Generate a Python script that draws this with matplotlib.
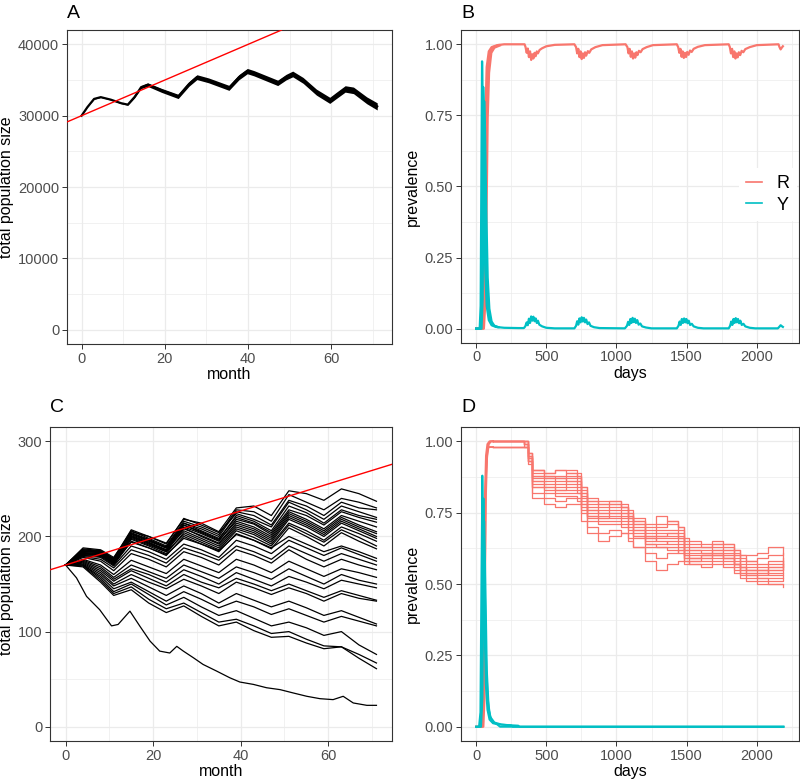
import numpy as np
import matplotlib
matplotlib.use("Agg")
import matplotlib.pyplot as plt
from matplotlib.ticker import MultipleLocator, FormatStrFormatter
from matplotlib.lines import Line2D

plt.rcParams['font.family'] = ['Liberation Sans', 'DejaVu Sans']

RED = '#F8766D'
TEAL = '#00BFC4'
GRID = '#EBEBEB'

# ---------------- panel A: one large population (months) ----------------
A_MONTH = [0, 1.4, 3.0, 4.6, 7.0, 9.5, 11.1, 12.7, 14.3, 15.9, 19.2, 23.2, 25.8, 27.7, 30.5,
           35.4, 37.8, 39.8, 41.4, 47.1, 49.1, 50.7, 53.2, 56.4, 59.6, 61.2, 63.3, 65.3, 68.5, 71]
A_POP = [30000, 31200, 32350, 32600, 32250, 31750, 31550, 32600, 34000, 34350, 33550, 32700,
         34450, 35400, 34950, 33900, 35400, 36250, 35950, 34600, 35400, 35850, 34950, 33300,
         32150, 32850, 33750, 33550, 32150, 31300]
A_SPREAD = [0, 20, 40, 50, 60, 70, 80, 120, 200, 250, 280, 300, 320, 340, 340, 350, 360, 370,
            370, 380, 390, 400, 410, 420, 430, 440, 450, 460, 480, 500]
A_INTERCEPT = 30000
A_SLOPE = 250

# ---------------- panel B: prevalence, large population (days) ----------------
B_Y_DAY = [0, 25, 32, 38, 42, 47, 55, 65, 75, 90, 110, 140, 200, 300, 340,
           350, 360, 368, 376, 384, 392, 400, 408, 416, 424, 432, 440, 450, 470, 500, 560, 700,
           712, 720, 728, 736, 744, 752, 760, 768, 776, 784, 794, 804, 815, 840, 880, 1060,
           1075, 1083, 1091, 1099, 1107, 1115, 1123, 1131, 1139, 1148, 1158, 1170, 1182, 1210, 1250, 1430,
           1442, 1450, 1458, 1466, 1474, 1482, 1490, 1498, 1506, 1515, 1525, 1537, 1550, 1580, 1620, 1800,
           1810, 1818, 1826, 1834, 1842, 1850, 1858, 1866, 1874, 1883, 1893, 1905, 1918, 1950, 1990, 2150,
           2160, 2170, 2180, 2186]
B_Y_VAL = [0, 0, 0.08, 0.6, 0.94, 0.78, 0.45, 0.2, 0.08, 0.03, 0.012, 0.006, 0.003, 0.002, 0.002,
           0.008, 0.022, 0.012, 0.035, 0.02, 0.043, 0.028, 0.042, 0.026, 0.036, 0.02, 0.028, 0.014, 0.008, 0.003, 0.001, 0.001,
           0.01, 0.026, 0.014, 0.036, 0.022, 0.04, 0.025, 0.038, 0.022, 0.032, 0.016, 0.022, 0.01, 0.005, 0.002, 0.001,
           0.01, 0.024, 0.013, 0.034, 0.02, 0.038, 0.023, 0.035, 0.02, 0.03, 0.014, 0.018, 0.008, 0.004, 0.001, 0.001,
           0.01, 0.025, 0.013, 0.034, 0.02, 0.036, 0.022, 0.034, 0.019, 0.028, 0.013, 0.017, 0.008, 0.003, 0.001, 0.001,
           0.01, 0.025, 0.013, 0.034, 0.02, 0.037, 0.022, 0.034, 0.019, 0.028, 0.013, 0.017, 0.008, 0.003, 0.001, 0.001,
           0.006, 0.012, 0.008, 0.006]
B_Y2_DAY = [0, 32, 40, 46, 50, 56, 64, 74, 85, 100, 120, 150]
B_Y2_VAL = [0, 0, 0.1, 0.55, 0.85, 0.75, 0.45, 0.2, 0.08, 0.03, 0.012, 0.006]
B_Y3_DAY = [0, 38, 46, 52, 57, 63, 72, 82, 94, 110, 130, 160]
B_Y3_VAL = [0, 0, 0.1, 0.5, 0.8, 0.7, 0.42, 0.18, 0.07, 0.025, 0.01, 0.005]

B_R_DAY = [0, 40, 50, 58, 66, 75, 90, 110, 150, 200, 345,
           352, 360, 368, 376, 384, 392, 400, 408, 416, 424, 432, 440, 452, 470, 500, 560, 700,
           712, 720, 728, 736, 744, 752, 760, 768, 776, 784, 796, 806, 820, 850, 900, 1065,
           1078, 1086, 1094, 1102, 1110, 1118, 1126, 1134, 1142, 1150, 1160, 1172, 1186, 1215, 1260, 1430,
           1440, 1448, 1456, 1464, 1472, 1480, 1488, 1496, 1504, 1514, 1524, 1536, 1550, 1580, 1630, 1800,
           1808, 1816, 1824, 1832, 1840, 1848, 1856, 1864, 1872, 1882, 1892, 1904, 1918, 1950, 2000, 2155,
           2162, 2170, 2178, 2186]
B_R_VAL = [0, 0, 0.08, 0.4, 0.75, 0.92, 0.975, 0.99, 0.997, 1.0, 1.0,
           0.99, 0.97, 0.985, 0.955, 0.975, 0.945, 0.965, 0.95, 0.97, 0.958, 0.975, 0.968, 0.98, 0.986, 0.993, 0.998, 1.0,
           0.99, 0.968, 0.984, 0.955, 0.975, 0.948, 0.968, 0.952, 0.972, 0.96, 0.976, 0.97, 0.982, 0.99, 0.997, 1.0,
           0.99, 0.968, 0.984, 0.956, 0.975, 0.95, 0.968, 0.953, 0.972, 0.962, 0.977, 0.972, 0.983, 0.99, 0.997, 1.0,
           0.99, 0.97, 0.984, 0.956, 0.975, 0.952, 0.97, 0.955, 0.973, 0.963, 0.978, 0.973, 0.984, 0.991, 0.997, 1.0,
           0.99, 0.968, 0.984, 0.955, 0.975, 0.95, 0.968, 0.954, 0.972, 0.962, 0.977, 0.972, 0.983, 0.99, 0.997, 1.0,
           0.99, 0.982, 0.988, 0.993]
B_R2_DAY = [0, 48, 58, 66, 74, 84, 100, 120, 160]
B_R2_VAL = [0, 0, 0.1, 0.42, 0.76, 0.92, 0.975, 0.99, 0.997]
B_R3_DAY = [0, 55, 66, 74, 82, 92, 108, 130, 170]
B_R3_VAL = [0, 0, 0.1, 0.4, 0.74, 0.9, 0.97, 0.988, 0.996]

# ---------------- panel C: small populations (months) ----------------
C_MONTH = [0, 4, 8, 11, 15, 19, 23, 27, 31, 35, 39, 43, 47, 51, 55, 59, 63, 67, 71]
C_RUNS = [
    [170, 188, 186, 178, 205, 200, 193, 218, 214, 205, 230, 232, 222, 248, 245, 238, 250, 245, 237],
    [170, 186, 185, 176, 206, 198, 190, 216, 210, 202, 228, 226, 216, 244, 236, 228, 240, 236, 230],
    [170, 185, 184, 175, 203, 196, 188, 214, 208, 200, 226, 222, 212, 238, 232, 222, 236, 230, 228],
    [170, 187, 185, 177, 207, 200, 192, 219, 212, 204, 224, 218, 210, 236, 228, 218, 232, 226, 220],
    [170, 184, 183, 174, 201, 194, 186, 212, 205, 197, 222, 216, 206, 232, 225, 214, 228, 222, 218],
    [170, 186, 184, 176, 204, 197, 189, 214, 206, 198, 220, 214, 204, 228, 222, 212, 226, 220, 215],
    [170, 183, 182, 173, 200, 193, 185, 210, 203, 195, 218, 213, 202, 226, 218, 208, 222, 216, 210],
    [170, 185, 183, 175, 202, 195, 188, 212, 204, 196, 216, 210, 200, 224, 216, 206, 220, 212, 205],
    [170, 182, 181, 172, 199, 192, 184, 208, 201, 193, 214, 208, 198, 222, 214, 204, 218, 210, 203],
    [170, 184, 184, 176, 203, 196, 188, 209, 200, 192, 212, 206, 196, 220, 212, 202, 216, 208, 200],
    [170, 183, 182, 174, 200, 193, 186, 206, 198, 190, 210, 204, 194, 218, 210, 200, 214, 206, 198],
    [170, 181, 180, 171, 197, 190, 182, 204, 196, 188, 208, 202, 192, 214, 206, 196, 210, 203, 195],
    [170, 182, 181, 173, 198, 191, 184, 202, 194, 186, 206, 199, 190, 212, 203, 194, 207, 199, 190],
    [170, 180, 179, 170, 195, 188, 180, 200, 192, 184, 203, 196, 187, 209, 200, 190, 204, 195, 187],
    [170, 182, 180, 172, 194, 188, 181, 198, 192, 185, 202, 196, 188, 200, 192, 184, 190, 184, 177],
    [170, 180, 178, 169, 190, 184, 176, 192, 186, 178, 196, 190, 182, 196, 188, 180, 188, 181, 174],
    [170, 179, 176, 167, 186, 180, 172, 188, 182, 175, 190, 184, 176, 190, 182, 174, 182, 176, 170],
    [170, 178, 174, 164, 182, 176, 168, 184, 178, 170, 186, 180, 172, 186, 176, 168, 176, 170, 165],
    [170, 176, 170, 160, 175, 168, 161, 176, 169, 162, 176, 170, 162, 174, 166, 158, 166, 162, 157],
    [170, 175, 168, 157, 170, 163, 156, 170, 163, 156, 168, 162, 155, 166, 158, 150, 160, 154, 150],
    [170, 174, 166, 155, 166, 160, 152, 165, 158, 150, 162, 155, 148, 158, 152, 145, 154, 150, 146],
    [170, 173, 164, 153, 164, 156, 148, 160, 152, 146, 156, 150, 143, 150, 143, 136, 143, 138, 133],
    [170, 172, 162, 150, 160, 152, 145, 155, 148, 140, 152, 146, 139, 146, 140, 132, 140, 135, 132],
    [170, 171, 160, 148, 156, 147, 138, 148, 140, 130, 140, 133, 126, 132, 125, 117, 122, 115, 108],
    [170, 170, 158, 145, 152, 142, 132, 142, 134, 125, 132, 126, 118, 124, 117, 110, 116, 111, 106],
    [170, 170, 156, 142, 150, 139, 128, 136, 126, 117, 122, 114, 106, 110, 104, 96, 100, 86, 76],
    [170, 169, 154, 140, 147, 134, 124, 130, 120, 110, 113, 106, 98, 100, 92, 85, 84, 76, 67],
    [170, 168, 152, 138, 144, 130, 120, 127, 116, 106, 110, 101, 94, 95, 88, 82, 84, 72, 61],
]
C_LOW_MONTH = [0.2, 2.5, 4.8, 7.8, 10.5, 12.0, 14.7, 17.0, 19.3, 21.5, 23.8, 25.4, 26.9, 29.2,
               31.4, 34.5, 37.5, 39.8, 42.9, 45.9, 49.0, 52.0, 55.1, 58.1, 61.1, 63.4, 65.7, 68.8, 71]
C_LOW_POP = [169, 156.5, 137, 123, 106, 107.5, 121.5, 105.5, 90, 79.5, 77.5, 84.5, 79.5, 72.5,
             65.5, 58.5, 51.5, 47, 44.5, 41, 39, 35.5, 32, 29.5, 28.5, 32, 25, 22.5, 22.5]
C_INTERCEPT = 170
C_SLOPE = 1.42

# ---------------- panel D: prevalence, small populations (days) ----------------
D_Y_RUNS = [
    ([0, 20, 30, 38, 44, 50, 58, 68, 80, 95, 120, 160, 220, 300, 310, 2190],
     [0, 0, 0.05, 0.55, 0.88, 0.7, 0.4, 0.15, 0.06, 0.025, 0.012, 0.008, 0.006, 0.004, 0.0, 0.0]),
    ([0, 28, 38, 46, 52, 60, 70, 82, 100, 130, 180, 250, 260, 2190],
     [0, 0, 0.08, 0.5, 0.8, 0.55, 0.25, 0.1, 0.035, 0.015, 0.008, 0.005, 0.0, 0.0]),
    ([0, 35, 45, 52, 58, 66, 76, 90, 110, 150, 170, 2190],
     [0, 0, 0.1, 0.5, 0.72, 0.5, 0.2, 0.06, 0.02, 0.008, 0.0, 0.0]),
]
D_R_EARLY = [
    ([0, 40, 48, 55, 62, 70, 80, 95, 120], [0, 0, 0.1, 0.45, 0.8, 0.95, 0.99, 1.0, 1.0]),
    ([0, 46, 55, 62, 70, 78, 88, 100, 120], [0, 0, 0.12, 0.5, 0.82, 0.95, 0.98, 0.98, 0.98]),
    ([0, 52, 60, 66, 72, 80, 90, 105, 120], [0, 0, 0.1, 0.83, 0.9, 0.96, 0.99, 1.0, 1.0]),
]
D_DAY = [120, 340, 370, 400, 480, 560, 640, 720, 750, 790, 870, 950, 1030, 1080, 1120, 1200,
         1280, 1360, 1440, 1480, 1520, 1600, 1680, 1760, 1840, 1880, 1920, 2000, 2080, 2190]
D_R_RUNS = [
    [1.0, 1.0, 0.96, 0.90, 0.89, 0.90, 0.90, 0.89, 0.84, 0.79, 0.78, 0.79, 0.78, 0.76, 0.73, 0.70, 0.71, 0.72, 0.70, 0.65, 0.64, 0.64, 0.65, 0.64, 0.62, 0.60, 0.58, 0.59, 0.60, 0.63],
    [1.0, 1.0, 0.95, 0.89, 0.88, 0.87, 0.88, 0.87, 0.82, 0.78, 0.77, 0.78, 0.77, 0.75, 0.72, 0.69, 0.70, 0.71, 0.69, 0.64, 0.63, 0.63, 0.64, 0.63, 0.61, 0.59, 0.58, 0.57, 0.58, 0.61],
    [1.0, 0.99, 0.95, 0.88, 0.87, 0.86, 0.87, 0.86, 0.81, 0.77, 0.76, 0.77, 0.76, 0.74, 0.71, 0.68, 0.69, 0.69, 0.68, 0.63, 0.62, 0.62, 0.63, 0.62, 0.60, 0.58, 0.57, 0.56, 0.57, 0.59],
    [1.0, 0.99, 0.94, 0.87, 0.86, 0.85, 0.86, 0.85, 0.80, 0.76, 0.75, 0.76, 0.75, 0.73, 0.70, 0.67, 0.68, 0.68, 0.67, 0.62, 0.61, 0.61, 0.62, 0.61, 0.59, 0.57, 0.56, 0.55, 0.56, 0.58],
    [0.98, 0.98, 0.94, 0.86, 0.85, 0.84, 0.85, 0.84, 0.79, 0.75, 0.74, 0.75, 0.74, 0.72, 0.69, 0.66, 0.67, 0.67, 0.66, 0.61, 0.60, 0.60, 0.61, 0.60, 0.58, 0.56, 0.55, 0.54, 0.55, 0.57],
    [0.98, 0.98, 0.93, 0.86, 0.84, 0.83, 0.84, 0.83, 0.78, 0.74, 0.73, 0.74, 0.73, 0.71, 0.68, 0.65, 0.66, 0.66, 0.65, 0.60, 0.59, 0.59, 0.60, 0.59, 0.57, 0.55, 0.54, 0.53, 0.54, 0.56],
    [1.0, 1.0, 0.95, 0.90, 0.88, 0.88, 0.89, 0.88, 0.83, 0.80, 0.79, 0.79, 0.77, 0.74, 0.71, 0.67, 0.67, 0.68, 0.66, 0.62, 0.62, 0.61, 0.62, 0.62, 0.60, 0.56, 0.55, 0.55, 0.53, 0.54],
    [0.98, 0.98, 0.93, 0.85, 0.84, 0.83, 0.83, 0.82, 0.77, 0.73, 0.72, 0.72, 0.71, 0.69, 0.67, 0.64, 0.64, 0.65, 0.64, 0.59, 0.58, 0.58, 0.59, 0.58, 0.56, 0.54, 0.53, 0.52, 0.52, 0.53],
    [1.0, 1.0, 0.96, 0.88, 0.87, 0.87, 0.86, 0.86, 0.82, 0.76, 0.75, 0.75, 0.75, 0.73, 0.69, 0.66, 0.65, 0.64, 0.63, 0.60, 0.59, 0.59, 0.60, 0.59, 0.57, 0.54, 0.53, 0.52, 0.51, 0.52],
    [1.0, 0.99, 0.94, 0.84, 0.83, 0.82, 0.82, 0.82, 0.78, 0.74, 0.73, 0.73, 0.72, 0.70, 0.67, 0.64, 0.63, 0.63, 0.62, 0.58, 0.57, 0.57, 0.58, 0.57, 0.55, 0.53, 0.52, 0.51, 0.50, 0.50],
    [0.98, 0.98, 0.93, 0.84, 0.82, 0.81, 0.81, 0.80, 0.76, 0.72, 0.71, 0.71, 0.70, 0.68, 0.66, 0.63, 0.63, 0.62, 0.61, 0.58, 0.57, 0.56, 0.57, 0.56, 0.54, 0.52, 0.51, 0.50, 0.50, 0.49],
    [1.0, 0.98, 0.92, 0.80, 0.78, 0.77, 0.78, 0.78, 0.72, 0.68, 0.65, 0.67, 0.68, 0.66, 0.63, 0.58, 0.55, 0.57, 0.58, 0.57, 0.58, 0.60, 0.61, 0.60, 0.57, 0.56, 0.55, 0.55, 0.56, 0.58],
    [1.0, 0.99, 0.93, 0.82, 0.80, 0.79, 0.80, 0.79, 0.75, 0.70, 0.68, 0.69, 0.68, 0.65, 0.63, 0.61, 0.59, 0.61, 0.62, 0.59, 0.59, 0.60, 0.60, 0.59, 0.57, 0.55, 0.54, 0.54, 0.55, 0.57],
    [1.0, 1.0, 0.96, 0.90, 0.89, 0.90, 0.89, 0.88, 0.84, 0.79, 0.78, 0.78, 0.77, 0.75, 0.72, 0.71, 0.74, 0.72, 0.70, 0.66, 0.65, 0.63, 0.64, 0.64, 0.62, 0.60, 0.60, 0.61, 0.63, 0.63],
]


def style_axes(ax):
    ax.set_facecolor('white')
    ax.grid(True, which='major', color=GRID, linewidth=0.9, zorder=0)
    ax.grid(True, which='minor', color=GRID, linewidth=0.5, zorder=0)
    ax.set_axisbelow(True)
    for sp in ax.spines.values():
        sp.set_color('#333333')
        sp.set_linewidth(0.8)
    ax.tick_params(which='major', direction='out', length=3.5, width=0.7, color='#333333',
                   labelsize=10.5, labelcolor='#4D4D4D', pad=2)
    ax.tick_params(which='minor', length=0)


def panel_a(ax):
    style_axes(ax)
    lo = np.array(A_POP) - np.array(A_SPREAD)
    hi = np.array(A_POP) + np.array(A_SPREAD)
    ax.fill_between(A_MONTH, lo, hi, color='black', linewidth=0, zorder=2)
    ax.plot(A_MONTH, A_POP, color='black', linewidth=1.6, zorder=3)
    ax.axline((0, A_INTERCEPT), slope=A_SLOPE, color='red', linewidth=1.0, zorder=4)
    ax.set_xlim(-3.55, 74.55)
    ax.set_ylim(-2000, 42000)
    ax.xaxis.set_major_locator(MultipleLocator(20))
    ax.xaxis.set_minor_locator(MultipleLocator(10))
    ax.yaxis.set_major_locator(MultipleLocator(10000))
    ax.yaxis.set_minor_locator(MultipleLocator(5000))
    ax.set_xlabel('month', fontsize=11.5, labelpad=1)
    ax.set_ylabel('total population size', fontsize=11.5, labelpad=3)


def panel_prev(ax):
    style_axes(ax)
    ax.set_xlim(-109.5, 2299.5)
    ax.set_ylim(-0.05, 1.05)
    ax.xaxis.set_major_locator(MultipleLocator(500))
    ax.xaxis.set_minor_locator(MultipleLocator(250))
    ax.yaxis.set_major_locator(MultipleLocator(0.25))
    ax.yaxis.set_minor_locator(MultipleLocator(0.125))
    ax.yaxis.set_major_formatter(FormatStrFormatter('%.2f'))
    ax.set_xlabel('days', fontsize=11.5, labelpad=1)
    ax.set_ylabel('prevalence', fontsize=11.5, labelpad=3)


def panel_b(ax):
    panel_prev(ax)
    lw = 1.6
    ax.plot(B_R_DAY, B_R_VAL, color=RED, linewidth=lw, zorder=3)
    ax.plot(B_R2_DAY, B_R2_VAL, color=RED, linewidth=lw, zorder=3)
    ax.plot(B_R3_DAY, B_R3_VAL, color=RED, linewidth=lw, zorder=3)
    ax.plot(B_Y_DAY, B_Y_VAL, color=TEAL, linewidth=lw, zorder=4)
    ax.plot(B_Y2_DAY, B_Y2_VAL, color=TEAL, linewidth=lw, zorder=4)
    ax.plot(B_Y3_DAY, B_Y3_VAL, color=TEAL, linewidth=lw, zorder=4)
    handles = [Line2D([], [], color=RED, linewidth=1.2), Line2D([], [], color=TEAL, linewidth=1.2)]
    leg = ax.legend(handles, ['R', 'Y'], loc='center right', bbox_to_anchor=(1.0, 0.475),
                    fontsize=13, frameon=True, handlelength=0.9, handletextpad=0.8,
                    labelspacing=0.25, borderpad=0.4, borderaxespad=0.1)
    leg.get_frame().set_facecolor('white')
    leg.get_frame().set_edgecolor('none')
    leg.get_frame().set_alpha(1)


def panel_c(ax):
    style_axes(ax)
    for run in C_RUNS:
        ax.plot(C_MONTH, run, color='black', linewidth=0.9, zorder=2)
    ax.plot(C_LOW_MONTH, C_LOW_POP, color='black', linewidth=0.9, zorder=2)
    ax.axline((0, C_INTERCEPT), slope=C_SLOPE, color='red', linewidth=1.0, zorder=4)
    ax.set_xlim(-3.55, 74.55)
    ax.set_ylim(-15, 315)
    ax.xaxis.set_major_locator(MultipleLocator(20))
    ax.xaxis.set_minor_locator(MultipleLocator(10))
    ax.yaxis.set_major_locator(MultipleLocator(100))
    ax.yaxis.set_minor_locator(MultipleLocator(50))
    ax.set_xlabel('month', fontsize=11.5, labelpad=1)
    ax.set_ylabel('total population size', fontsize=11.5, labelpad=3)


def panel_d(ax):
    panel_prev(ax)
    for days, vals in D_R_EARLY:
        ax.plot(days, vals, color=RED, linewidth=1.4, zorder=3)
    for run in D_R_RUNS:
        ax.plot(D_DAY, run, color=RED, linewidth=0.9, drawstyle='steps-post', zorder=3)
    for days, vals in D_Y_RUNS:
        ax.plot(days, vals, color=TEAL, linewidth=1.4, zorder=4)


fig = plt.figure(figsize=(8, 7.81), dpi=100)
fig.patch.set_facecolor('white')
ax_a = fig.add_axes([0.0835, 0.5595, 0.4065, 0.402])
ax_b = fig.add_axes([0.576, 0.561, 0.4225, 0.4005])
ax_c = fig.add_axes([0.0625, 0.0512, 0.4275, 0.402])
ax_d = fig.add_axes([0.576, 0.0512, 0.4225, 0.402])

panel_a(ax_a)
panel_b(ax_b)
panel_c(ax_c)
panel_d(ax_d)

for letter, x, y in [('A', 0.084, 0.9766), ('B', 0.577, 0.9766),
                     ('C', 0.062, 0.4725), ('D', 0.577, 0.4725)]:
    fig.text(x, y, letter, fontsize=14, va='baseline', ha='left')

fig.savefig('out.png', dpi=100, facecolor='white')
